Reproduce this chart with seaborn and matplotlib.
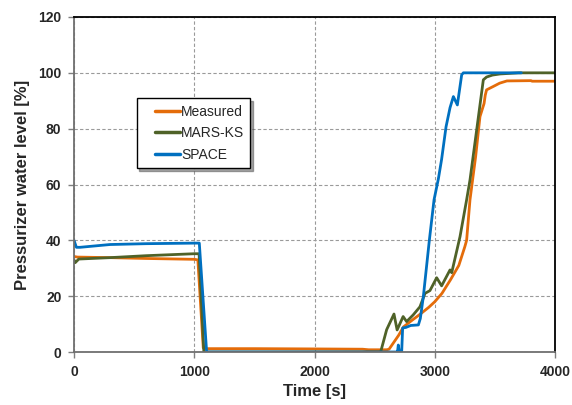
import matplotlib
matplotlib.use("Agg")
import matplotlib.pyplot as plt
from matplotlib.legend_handler import HandlerLine2D
import seaborn as sns
import pandas as pd

# ---- data ----
measured_t = [0, 30, 300, 600, 1000, 1030, 1075, 1100, 1500, 2000, 2400, 2450, 2600, 2620,
              2700, 2740, 2800, 2880, 2950, 3000, 3060, 3130, 3200, 3250, 3265, 3293, 3340,
              3376, 3410, 3420, 3431, 3486, 3540, 3600, 3800, 3810, 4000]
measured_v = [34.2, 34.0, 33.8, 33.5, 33.2, 33.0, 1.5, 1.2, 1.2, 1.1, 1.0, 0.8, 0.8, 1.0,
              6.0, 9.0, 11.0, 13.6, 16.0, 18.0, 21.0, 25.8, 31.0, 37.7, 40.0, 54.5, 70.0,
              84.3, 89.0, 92.0, 93.9, 95.1, 96.3, 97.1, 97.2, 97.0, 97.0]

mars_t = [0, 10, 40, 300, 600, 1000, 1040, 1080, 1500, 2000, 2550, 2600, 2661, 2687, 2737,
          2766, 2821, 2877, 2919, 2960, 3016, 3057, 3127, 3141, 3210, 3265, 3293, 3350,
          3404, 3431, 3480, 3543, 3700, 4000]
mars_v = [33.0, 32.0, 33.3, 33.8, 34.5, 35.2, 35.2, 0.0, 0.0, 0.0, 0.0, 8.0, 13.6, 7.9, 12.7,
          10.9, 13.3, 16.2, 21.0, 22.0, 26.6, 23.7, 29.4, 28.4, 41.3, 54.5, 61.6, 80.0,
          97.5, 98.5, 99.2, 99.6, 100.0, 100.0]

space_t = [0, 20, 50, 300, 600, 1000, 1042, 1103, 1500, 2000, 2680, 2690, 2697, 2705, 2725,
           2733, 2760, 2800, 2864, 2880, 2905, 2955, 2994, 3030, 3057, 3094, 3127, 3155,
           3188, 3224, 3238, 3720]
space_v = [40.0, 37.5, 37.5, 38.5, 38.8, 39.0, 39.0, 0.0, 0.0, 0.0, 0.0, 0.0, 2.5, 0.0, 0.0,
           8.6, 8.8, 9.5, 9.7, 12.0, 19.8, 40.0, 54.5, 62.0, 69.0, 80.7, 87.5, 91.5,
           88.5, 99.3, 100.0, 100.0]

series_names = ["Measured", "MARS-KS", "SPACE"]
x_ticks = [0, 1000, 2000, 3000, 4000]
y_ticks = [0, 20, 40, 60, 80, 100, 120]

frames = []
for name, t, v in zip(series_names, [measured_t, mars_t, space_t],
                      [measured_v, mars_v, space_v]):
    frames.append(pd.DataFrame({"t": t, "v": v, "series": name}))
df = pd.concat(frames, ignore_index=True)

sns.set_style("white")
plt.rcParams["font.family"] = ["Liberation Sans", "DejaVu Sans"]

fig = plt.figure(figsize=(5.72, 4.05), dpi=100)
ax = fig.add_axes([74 / 572, 1 - 352 / 405, (555 - 74) / 572, (352 - 17) / 405])

palette = {"Measured": "#E46C0A", "MARS-KS": "#4F6228", "SPACE": "#0070C0"}
sns.lineplot(data=df, x="t", y="v", hue="series", palette=palette, hue_order=series_names,
             estimator=None, sort=False, linewidth=2.0, ax=ax, legend=True)

ax.set_xlim(0, 4000)
ax.set_ylim(0, 120)
ax.set_xticks(x_ticks)
ax.set_yticks(y_ticks)
ax.set_xticklabels([str(x) for x in x_ticks], fontweight="bold", fontsize=10)
ax.set_yticklabels([str(y) for y in y_ticks], fontweight="bold", fontsize=10)
ax.set_xlabel("Time [s]", fontweight="bold", fontsize=12, labelpad=4)
ax.set_ylabel("Pressurizer water level [%]", fontweight="bold", fontsize=12, labelpad=6)

ax.grid(True, color="#9a9a9a", linestyle=(0, (3, 2)), linewidth=0.8)
ax.tick_params(axis="both", direction="out", length=4, width=1, color="#7f7f7f", pad=5,
               bottom=True, left=True)
for side in ["top", "right"]:
    ax.spines[side].set_color("black")
    ax.spines[side].set_linewidth(1.3)
for side in ["left", "bottom"]:
    ax.spines[side].set_color("#6f6f6f")
    ax.spines[side].set_linewidth(1.3)


class LeftPadHandler(HandlerLine2D):
    def get_xdata(self, legend, xdescent, ydescent, width, height, fontsize):
        pad = 0.86 * fontsize
        return [-xdescent + pad, -xdescent + width], [-xdescent + 0.5 * width]


handles, labels = ax.get_legend_handles_labels()
leg = ax.legend(handles, labels, loc="upper left", bbox_to_anchor=(0.130, 0.757),
                frameon=True, fancybox=False, shadow=True, edgecolor="black",
                fontsize=10, handlelength=2.66, handletextpad=0.1, labelspacing=0.55,
                borderpad=0.45, borderaxespad=0.0,
                handler_map={h: LeftPadHandler() for h in handles})
leg.get_frame().set_linewidth(1.0)
for line in leg.get_lines():
    line.set_linewidth(2.5)

fig.savefig("out.png", dpi=100)
